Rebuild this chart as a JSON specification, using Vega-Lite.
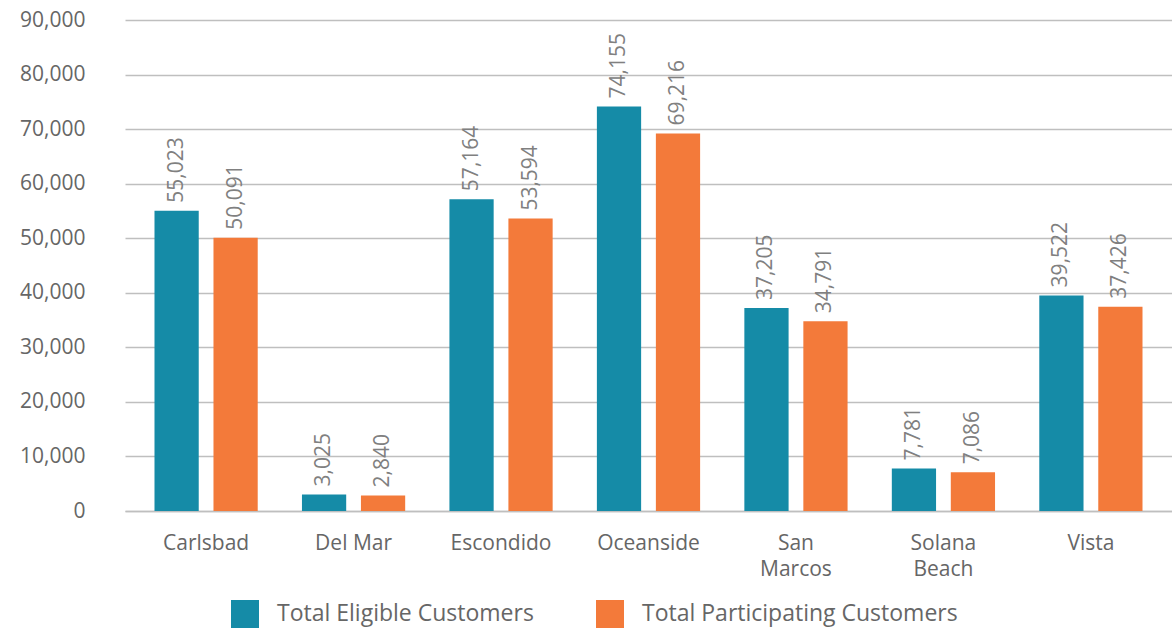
{
  "$schema": "https://vega.github.io/schema/vega-lite/v6.json",
  "autosize": {"type": "none"},
  "width": 1047,
  "height": 491,
  "padding": {"left": 125, "top": 20, "right": 0, "bottom": 117},
  "background": "white",
  "config": {
    "font": "Open Sans",
    "view": {"stroke": null}
  },
  "data": {
    "values": [
      {"city": "Carlsbad", "series": "Total Eligible Customers", "value": 55023},
      {"city": "Carlsbad", "series": "Total Participating Customers", "value": 50091},
      {"city": "Del Mar", "series": "Total Eligible Customers", "value": 3025},
      {"city": "Del Mar", "series": "Total Participating Customers", "value": 2840},
      {"city": "Escondido", "series": "Total Eligible Customers", "value": 57164},
      {"city": "Escondido", "series": "Total Participating Customers", "value": 53594},
      {"city": "Oceanside", "series": "Total Eligible Customers", "value": 74155},
      {"city": "Oceanside", "series": "Total Participating Customers", "value": 69216},
      {"city": "San Marcos", "series": "Total Eligible Customers", "value": 37205},
      {"city": "San Marcos", "series": "Total Participating Customers", "value": 34791},
      {"city": "Solana Beach", "series": "Total Eligible Customers", "value": 7781},
      {"city": "Solana Beach", "series": "Total Participating Customers", "value": 7086},
      {"city": "Vista", "series": "Total Eligible Customers", "value": 39522},
      {"city": "Vista", "series": "Total Participating Customers", "value": 37426}
    ]
  },
  "encoding": {
    "x": {
      "field": "city", "type": "nominal", "sort": null,
      "scale": {"paddingInner": 0.3, "paddingOuter": 0.2},
      "axis": {
        "title": null, "labelAngle": 0, "ticks": false, "domain": true,
        "domainColor": "#BFBFBF", "domainWidth": 1.3, "labelFontSize": 21, "labelColor": "#666666",
        "labelBaseline": "middle", "labelPadding": 32, "labelLineHeight": 26,
        "labelExpr": "datum.label == 'San Marcos' ? ['San', 'Marcos'] : datum.label == 'Solana Beach' ? ['Solana', 'Beach'] : datum.label"
      }
    },
    "xOffset": {
      "field": "series", "type": "nominal",
      "scale": {"paddingInner": 0.25}
    },
    "y": {
      "field": "value", "type": "quantitative",
      "scale": {"domain": [0, 90000]},
      "axis": {
        "title": null, "values": [0,10000,20000,30000,40000,50000,60000,70000,80000,90000],
        "labelOverlap": false,
        "format": ",d", "ticks": false, "domain": false,
        "gridColor": "#BFBFBF", "gridWidth": 1.3,
        "labelFontSize": 21, "labelColor": "#666666", "labelPadding": 40
      }
    }
  },
  "layer": [
    {
      "mark": {"type": "bar"},
      "encoding": {
        "color": {
          "field": "series", "type": "nominal",
          "scale": {"range": ["#158BA7", "#F37A3A"]},
          "legend": {
            "title": null, "orient": "none", "direction": "horizontal",
            "legendX": 106, "legendY": 580,
            "symbolType": "square", "symbolSize": 784, "symbolStrokeWidth": 0,
            "labelFontSize": 23, "labelColor": "#666666", "labelOffset": 18,
            "labelLimit": 400, "columnPadding": 62
          }
        }
      }
    },
    {
      "mark": {"type": "text", "angle": 270, "align": "left", "baseline": "middle", "dx": 8, "fontSize": 21, "color": "#808080"},
      "encoding": {
        "text": {"field": "value", "type": "quantitative", "format": ",d"}
      }
    }
  ]
}
